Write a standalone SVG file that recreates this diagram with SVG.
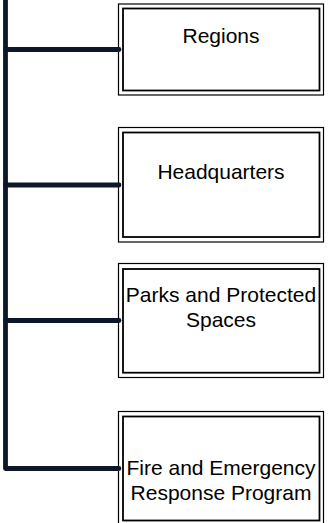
<svg xmlns="http://www.w3.org/2000/svg" width="328" height="523" viewBox="0 0 328 523">
  <style>
    .outer { fill: #ffffff; stroke: #000000; stroke-width: 1.2; }
    .inner { fill: #ffffff; stroke: #000000; stroke-width: 1.8; }
    .label { font-family: "Liberation Sans", Arial, sans-serif; font-size: 21px; fill: #000000; text-anchor: middle; }
    .conn { fill: none; stroke: #0e1727; stroke-width: 4.8; stroke-linecap: round; stroke-linejoin: round; }
  </style>
  <rect width="328" height="523" fill="#ffffff"/>

  <g id="regions">
    <rect class="outer" x="118.5" y="4" width="205" height="91"/>
    <rect class="inner" x="123" y="8.5" width="196.5" height="82"/>
    <text class="label" x="221" y="43.3">Regions</text>
  </g>

  <g id="headquarters">
    <rect class="outer" x="118.5" y="127.5" width="205" height="114.5"/>
    <rect class="inner" x="123" y="132.5" width="196.5" height="104.5"/>
    <text class="label" x="221" y="179.3">Headquarters</text>
  </g>

  <g id="parks">
    <rect class="outer" x="118.5" y="263.5" width="205" height="114"/>
    <rect class="inner" x="123" y="269" width="196.5" height="103.7"/>
    <text class="label" x="221" y="301.7">Parks and Protected</text>
    <text class="label" x="221" y="326.7">Spaces</text>
  </g>

  <g id="fire">
    <rect class="outer" x="118.5" y="411.5" width="205" height="114"/>
    <rect class="inner" x="123" y="416.5" width="196.5" height="104"/>
    <text class="label" x="221" y="474.8">Fire and Emergency</text>
    <text class="label" x="221" y="499.5">Response Program</text>
  </g>

  <!-- connectors: trunk on the left with a branch to each unit, drawn over the box edges -->
  <g id="connectors">
    <path class="conn" d="M5.5,-5 V468.5 H119"/>
    <path class="conn" d="M5.5,49.5 H119"/>
    <path class="conn" d="M5.5,185 H119"/>
    <path class="conn" d="M5.5,320.5 H119"/>
  </g>
</svg>
